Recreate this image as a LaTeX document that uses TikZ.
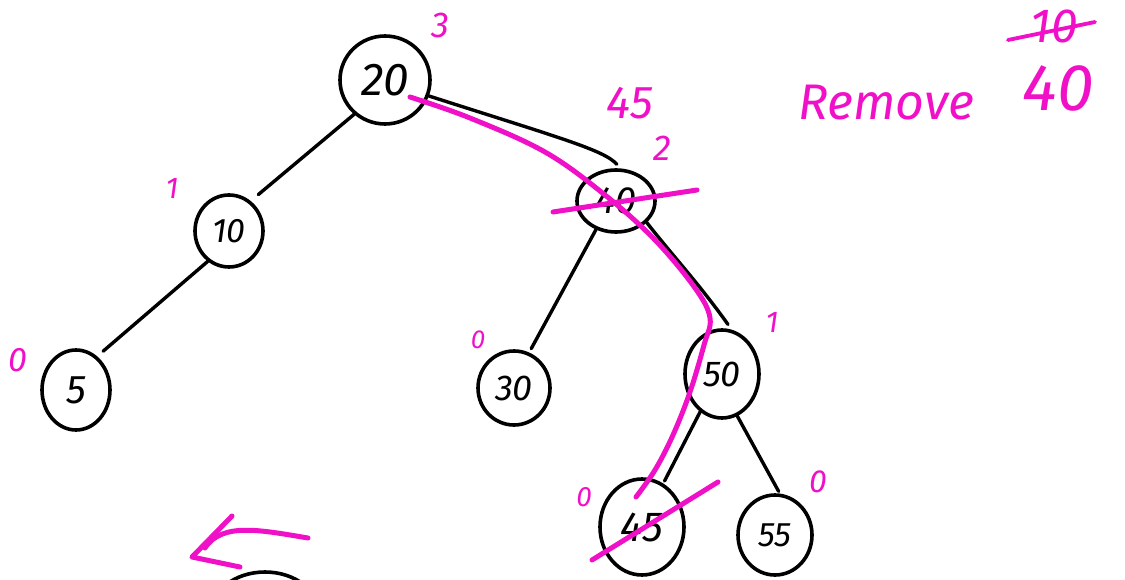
\documentclass[tikz,border=0pt]{standalone}
\usepackage{fontspec}
\setmainfont{Fira Sans}
\usetikzlibrary{shapes.geometric}
\definecolor{ink}{RGB}{240,16,200}
\tikzset{
  keynode/.style={draw, ellipse, line width=3.6pt, inner sep=0pt, font=\itshape\fontsize{#1}{#1}\selectfont},
  keynode/.default=32,
  branch/.style={draw, line width=3.4pt, line cap=round},
  pen/.style={draw=ink, line width=5pt, line cap=round, line join=round},
  note/.style={text=ink, font=\itshape\fontsize{#1}{#1}\selectfont, inner sep=0pt},
  note/.default=26
}
\begin{document}
\begin{tikzpicture}[x=1pt, y=-1pt]
\useasboundingbox (0,0) rectangle (1125,580);
\clip (0,0) rectangle (1125,580);

% tree nodes
\node[keynode=46, minimum width=90pt, minimum height=88pt] (n20) at (385,80) {20};
\node[keynode=34, minimum width=68pt, minimum height=72pt] (n10) at (229,231) {10};
\node[keynode=40, minimum width=68pt, minimum height=80pt] (n5)  at (76,390) {5};
\node[keynode=38, minimum width=78pt, minimum height=62pt] (n40) at (616,201) {40};
\node[keynode=36, minimum width=72pt, minimum height=74pt] (n30) at (514,388) {30};
\node[keynode=36, minimum width=74pt, minimum height=88pt] (n50) at (722,374) {50};
\node[keynode=42, minimum width=84pt, minimum height=96pt] (n45) at (642,527) {45};
\node[keynode=34, minimum width=74pt, minimum height=80pt] (n55) at (775,535) {55};
\node[draw, ellipse, line width=3.6pt, minimum width=110pt, minimum height=86pt] (nlow) at (265,615) {};

% branches
\draw[branch] (n20.228) -- ([shift={(8,-6)}]n10.55);
\draw[branch] (n10.235) -- ([shift={(6,-5)}]n5.58);
\draw[branch] (n20.-20) .. controls (560,138) and (604,150) .. ([shift={(-2,-4)}]n40.85);
\draw[branch] (n40.235) -- ([shift={(4,-3)}]n30.70);
\draw[branch] (n40.-35) .. controls (672,255) and (700,285) .. ([shift={(2,-4)}]n50.85);
\draw[branch] (n50.240) -- ([shift={(2,-2)}]n45.65);
\draw[branch] (n50.-70) -- ([shift={(0,-2)}]n55.85);

% removal path and strike-throughs
\draw[pen] plot[smooth, tension=0.6] coordinates {(410,97) (470,118) (545,152) (605,195) (655,240) (695,288) (710,318) (704,345) (690,392) (673,435) (655,470) (636,497)};
\draw[pen] (553,212) -- (697,190);
\draw[pen] (592,560) -- (718,482);

% balance factors
\node[note=36] (b20) at (440,25) {3};
\node[note=36] (b40) at (662,148) {2};
\node[note=30] (b10) at (172,188) {1};
\node[note=34] (b5)  at (18,360) {0};
\node[note=26] (b30) at (478,340) {0};
\node[note=30] (b50) at (772,322) {1};
\node[note=28] (b45) at (584,497) {0};
\node[note=32] (b55) at (818,482) {0};
\node[note=46] (succ) at (630,103) {45};

% heading
\node[note=50, anchor=base west] (remove) at (798,120) {Remove};
\node[note=48] (old) at (1054,26) {10};
\draw[pen, line width=3.8pt] (1008,40) -- (1095,22);
\node[note=66] (key) at (1058,88) {40};

% direction arrow
\coordinate (atail) at (308,538);
\coordinate (atip) at (192,557);
\draw[pen] (atail) .. controls (260,530) and (222,522) .. (205,548);
\draw[pen] (232,516) -- (atip) -- (240,567);
\end{tikzpicture}
\end{document}
